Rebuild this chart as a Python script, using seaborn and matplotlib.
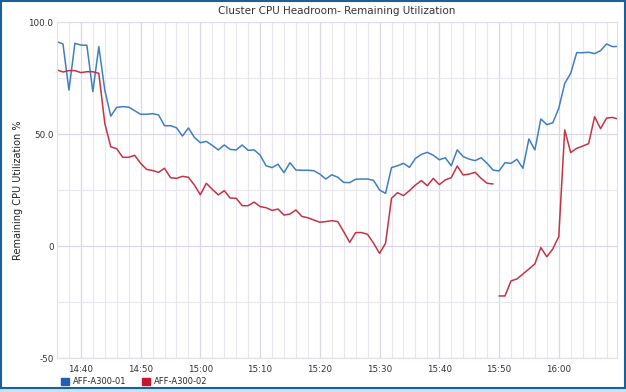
import numpy as np
import pandas as pd
import seaborn as sns
import matplotlib.pyplot as plt
import matplotlib.dates as mdates
from matplotlib.patches import Patch, Rectangle

# one sample per minute, starting 14:36
START = "2023-01-01 14:36"

NODE_01 = [
    91.2, 90.2, 69.6, 90.5, 89.7, 89.6, 68.9, 89.0, 69.6, 58.0,
    61.9, 62.2, 62.0, 60.4, 58.8, 58.8, 59.1, 58.5, 53.7, 53.7,
    52.8, 49.1, 52.7, 48.5, 46.1, 46.7, 44.9, 42.9, 45.1, 43.1,
    42.9, 45.1, 42.7, 42.9, 40.6, 35.8, 35.0, 36.5, 32.7, 37.2,
    33.9, 33.8, 33.8, 33.6, 32.1, 29.9, 31.8, 30.7, 28.4, 28.3,
    29.8, 29.9, 29.9, 29.3, 25.0, 23.5, 35.0, 35.8, 36.9, 35.1,
    39.1, 40.9, 41.8, 40.5, 38.5, 39.4, 35.8, 42.9, 39.9, 38.8,
    38.1, 39.4, 36.9, 33.9, 33.5, 37.2, 36.9, 38.7, 34.7, 47.8,
    42.9, 56.7, 54.2, 55.0, 61.5, 72.6, 77.1, 86.3, 86.3, 86.5,
    85.9, 87.2, 90.2, 89.0, 89.1,
]

# node 02 reports in two pieces: 14:36-15:49 and 15:50 onwards
NODE_02_A = [
    78.6, 77.7, 78.3, 78.3, 77.4, 77.8, 77.8, 77.1, 54.8, 44.3,
    43.4, 39.6, 39.6, 40.5, 36.9, 34.2, 33.7, 32.9, 34.7, 30.5,
    30.2, 31.1, 30.7, 27.2, 22.9, 28.0, 25.3, 22.8, 24.7, 21.4,
    21.3, 18.0, 18.0, 19.6, 17.6, 17.1, 15.9, 16.5, 13.8, 14.3,
    16.1, 13.2, 12.6, 11.6, 10.6, 10.9, 11.3, 10.9, 6.4, 1.6,
    6.0, 6.0, 5.2, 1.2, -3.3, 1.2, 21.3, 23.8, 22.5, 24.7,
    27.2, 29.2, 26.9, 30.2, 27.4, 29.5, 30.5, 35.7, 31.7, 32.1,
    32.9, 30.2, 28.0, 27.7,
]
NODE_02_B_START = "2023-01-01 15:50"
NODE_02_B = [
    -22.3, -22.3, -15.6, -14.7, -12.5, -10.3, -8.0, -0.7, -4.8, -1.3,
    4.2, 51.8, 41.7, 43.6, 44.6, 45.7, 57.7, 52.4, 57.1, 57.4,
    56.6,
]

NODES = ["AFF-A300-01", "AFF-A300-02"]
LINE_COLORS = {"AFF-A300-01": "#3f7fc1", "AFF-A300-02": "#c23444"}
LEGEND_COLORS = ["#1f5fb8", "#c8142c"]
Y_TICKS = [-50, 0, 50, 100]
Y_TICK_LABELS = ["-50", "0", "50.0", "100.0"]


def piece(values, start, node, seg):
    return pd.DataFrame({
        "time": pd.date_range(start, periods=len(values), freq="min"),
        "value": values,
        "node": node,
        "segment": seg,
    })


df = pd.concat([
    piece(NODE_01, START, NODES[0], "01"),
    piece(NODE_02_A, START, NODES[1], "02a"),
    piece(NODE_02_B, NODE_02_B_START, NODES[1], "02b"),
], ignore_index=True)

sns.set_style("white")
plt.rcParams["font.family"] = ["DejaVu Sans"]

fig = plt.figure(figsize=(6.26, 3.92), dpi=100)
ax = fig.add_axes([57 / 626, 34 / 392, 560 / 626, 336 / 392])

sns.lineplot(data=df, x="time", y="value", hue="node", units="segment",
             estimator=None, palette=LINE_COLORS, linewidth=1.1,
             legend=False, ax=ax)

ax.set_xlim(pd.Timestamp(START), pd.Timestamp("2023-01-01 16:09:45"))
ax.set_ylim(-50, 100)

ax.xaxis.set_major_locator(mdates.MinuteLocator(byminute=range(0, 60, 10)))
ax.xaxis.set_minor_locator(mdates.MinuteLocator(byminute=range(0, 60, 2)))
ax.xaxis.set_major_formatter(mdates.DateFormatter("%H:%M"))
ax.set_yticks(Y_TICKS)
ax.set_yticklabels(Y_TICK_LABELS)
ax.set_yticks([-25, 25, 75], minor=True)

ax.grid(True, which="major", color="#dcd6e4", linewidth=0.9)
ax.grid(True, which="minor", color="#e9e6ee", linewidth=0.8)
ax.set_axisbelow(True)
ax.tick_params(which="both", length=0)
ax.tick_params(axis="both", labelsize=6.3, colors="#333333")
ax.tick_params(axis="x", pad=5)
ax.tick_params(axis="y", pad=2.5)
for s in ax.spines.values():
    s.set_color("#e2dfe8")
    s.set_linewidth(0.8)

ax.set_xlabel("")
ax.set_ylabel("Remaining CPU Utilization %", fontsize=7, color="#222222", labelpad=4)
ax.set_title("Cluster CPU Headroom- Remaining Utilization", fontsize=7.5,
             color="#333333", pad=6)

handles = [Patch(facecolor=c, edgecolor=c) for c in LEGEND_COLORS]
fig.legend(handles, NODES, loc="lower left", bbox_to_anchor=(0.085, -0.005),
           ncol=2, frameon=False, fontsize=6, handlelength=1.0, handleheight=1.0,
           handletextpad=0.5, columnspacing=1.8)

# outer frame of the panel
fig.patches.append(Rectangle((0, 0), 1, 4 / 392, transform=fig.transFigure,
                             facecolor="#c4e4f4", edgecolor="none"))
fig.patches.append(Rectangle((0.001, 4 / 392), 0.997, 1 - 5 / 392,
                             transform=fig.transFigure, fill=False,
                             edgecolor="#1d5f98", linewidth=1.5))

fig.savefig("out.png", dpi=100)
plt.close(fig)
